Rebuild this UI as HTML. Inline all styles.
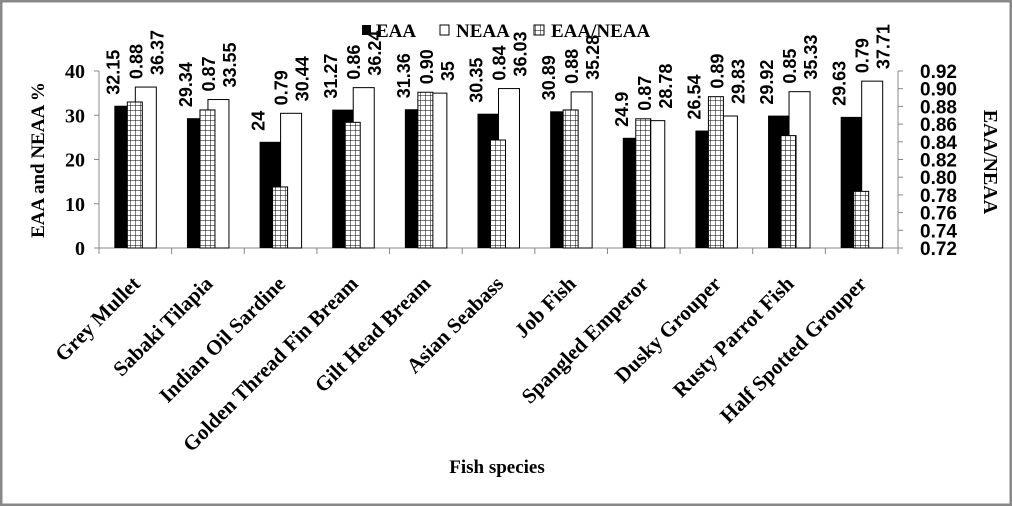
<!DOCTYPE html>
<html><head><meta charset="utf-8"><style>
html,body{margin:0;padding:0;background:#fff}
svg{display:block}
text{font-family:"Liberation Serif",serif;font-weight:bold;fill:#000}
.v{font-family:"Liberation Sans",sans-serif;font-size:18px}
</style></head><body>
<svg id="chart" width="1012" height="506" viewBox="0 0 1012 506">
<defs>
<pattern id="grid" width="5" height="5" patternUnits="userSpaceOnUse"><rect width="5" height="5" fill="#fff"/><path d="M0 0H5M0 0V5" stroke="#000" stroke-width="1"/></pattern>
</defs>
<rect x="1" y="1" width="1010" height="504" fill="#fff" stroke="#888" stroke-width="3"/>
<g id="plot"></g>
<g id="legend">
<g><rect x="362" y="25" width="9" height="10" fill="#000"/><text x="376" y="37" font-size="19">EAA</text></g>
<g><rect x="440" y="25" width="9" height="10" fill="#fff" stroke="#000"/><text x="456" y="37" font-size="19">NEAA</text></g>
<g><rect x="534" y="25" width="10" height="10" fill="url(#grid)" stroke="#000"/><text x="551" y="37" font-size="19">EAA/NEAA</text></g>
</g>
<text x="44" y="160" font-size="19" text-anchor="middle" transform="rotate(-90 44 160)">EAA and NEAA %</text>
<text x="984" y="162" font-size="20" text-anchor="middle" transform="rotate(90 984 162)">EAA/NEAA</text>
<text x="497" y="473" font-size="19" text-anchor="middle">Fish species</text>
</svg>
<script>
const categories=["Grey Mullet","Sabaki Tilapia","Indian Oil Sardine","Golden Thread Fin Bream","Gilt Head Bream","Asian Seabass","Job Fish","Spangled Emperor","Dusky Grouper","Rusty  Parrot  Fish","Half Spotted Grouper"];
const eaa=[32.15,29.34,24,31.27,31.36,30.35,30.89,24.9,26.54,29.92,29.63];
const neaa=[36.37,33.55,30.44,36.24,35,36.03,35.28,28.78,29.83,35.33,37.71];
const ratio=[0.885,0.876,0.789,0.862,0.896,0.842,0.876,0.866,0.891,0.847,0.784];
const ratioLabels=["0.88","0.87","0.79","0.86","0.90","0.84","0.88","0.87","0.89","0.85","0.79"];
const leftTicks=[0,10,20,30,40];
const rightTicks=[0.72,0.74,0.76,0.78,0.80,0.82,0.84,0.86,0.88,0.90,0.92];

const NS="http://www.w3.org/2000/svg";
const X0=99,X1=898,Y0=248,Y1=71;
const step=(X1-X0)/categories.length;
const yL=v=>Y0-(v/40)*(Y0-Y1);
const yR=v=>Y0-((v-0.72)/0.2)*(Y0-Y1);
const cx=i=>X0+step*(i+0.5);
const g=document.getElementById('plot');
function el(t,a,txt){const e=document.createElementNS(NS,t);for(const k in a)e.setAttribute(k,a[k]);if(txt!=null)e.textContent=txt;g.appendChild(e);return e;}

const lAxis=el('line',{x1:X0,y1:Y1,x2:X0,y2:Y0,stroke:'#888'});


const rAxis=el('line',{x1:X1,y1:Y1,x2:X1,y2:Y0,stroke:'#888'});


const xAxis=el('line',{x1:X0-5,y1:Y0,x2:X1+5,y2:Y0,stroke:'#888'});


leftTicks.forEach(t=>{
  el('line',{x1:X0-5,y1:yL(t),x2:X0,y2:yL(t),stroke:'#888'});
  const tx=el('text',{x:X0-14,y:yL(t)+7,'font-size':20,'text-anchor':'end'},t);
  
  
});
rightTicks.forEach(t=>{
  el('line',{x1:X1,y1:yR(t),x2:X1+5,y2:yR(t),stroke:'#888'});
  const tx=el('text',{x:X1+59,y:yR(t)+7,'font-size':19,'text-anchor':'end',style:'font-family:"Liberation Sans",sans-serif'},t.toFixed(2));
  
  
});
for(let i=0;i<=categories.length;i++){el('line',{x1:X0+step*i,y1:Y0,x2:X0+step*i,y2:Y0+6,stroke:'#888'});}
const lab=(x,y,t,n)=>{const e=el('text',{x:x,y:y,class:'v',transform:`rotate(-90 ${x} ${y})`},t);};
categories.forEach((c,i)=>{
  const m=cx(i);
  const b=el('rect',{x:m-21,y:yL(eaa[i]),width:21,height:Y0-yL(eaa[i]),fill:'#000'});
  
  
  const w=el('rect',{x:m,y:yL(neaa[i]),width:21,height:Y0-yL(neaa[i]),fill:'#fff',stroke:'#000'});
  
  
  const h=el('rect',{x:m-8,y:yR(ratio[i]),width:15,height:Y0-yR(ratio[i]),fill:'url(#grid)',stroke:'#000'});
  
  
  lab(m-16,yL(eaa[i])-11,eaa[i],'value-label-eaa');
  lab(m+7,Math.min(yL(eaa[i]),yL(neaa[i]),yR(ratio[i]))-8,ratioLabels[i],'value-label-ratio');
  lab(m+28,yL(neaa[i])-12,neaa[i],'value-label-neaa');
  const t=el('text',{x:m+6,y:Y0+37,'font-size':21,'text-anchor':'end',transform:`rotate(-45 ${m+6} ${Y0+37})`},c);
  
  
});
</script>
</body></html>
